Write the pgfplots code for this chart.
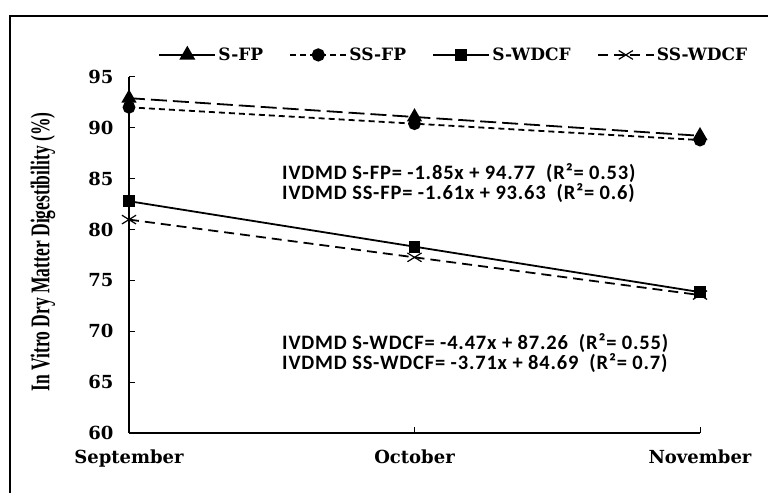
\documentclass[border=0pt]{standalone}
\usepackage{pgfplots}
\pgfplotsset{compat=1.18}
\usepackage{fontspec}
\setmainfont{DejaVu Serif}
\newfontfamily\tickfam{DejaVu Serif}
\newfontfamily\eqfam[LetterSpace=4]{Carlito}
\newfontfamily\labfam{Liberation Serif}
\newcommand\tickfont{\tickfam\bfseries\fontsize{18bp}{20bp}\selectfont}
\newcommand\legfont{\tickfam\bfseries\fontsize{17bp}{20bp}\selectfont}
\newcommand\eqfont{\eqfam\bfseries\fontsize{20.5bp}{20bp}\selectfont}
\begin{document}
\begin{tikzpicture}
\useasboundingbox (0,0) rectangle (768bp,493bp);
\draw[line width=2bp] (10bp,-5bp) -- (10bp,477bp) -- (775bp,477bp);
\node[rotate=90] at (43bp,241bp) {\scalebox{0.65}[1]{\labfam\bfseries\fontsize{27bp}{27bp}\selectfont In Vitro Dry Matter Digestibility (\%)}};
\begin{axis}[
  at={(129bp,60bp)}, anchor=south west,
  scale only axis, width=571bp, height=356bp,
  xmin=0, xmax=2, ymin=60, ymax=95,
  axis x line=bottom, axis y line=left,
  axis line style={-, line width=1.2bp},
  xtick={0,1,2}, xticklabels={September,October,November},
  ytick={60,65,...,95},
  tick align=inside, major tick length=6bp,
  tick style={line width=1bp, black},
  ticklabel style={font=\tickfont},
  /pgf/number format/assume math mode=true,
  yticklabel style={xshift=-12bp},
  xticklabel style={yshift=-13bp},
  clip=false,
  legend columns=4,
  legend style={draw=none, fill=none, at={(0.0508,1.062)}, anchor=west, inner sep=0pt,
    font=\legfont, /tikz/every even column/.append style={column sep=24bp}},
  legend image code/.code={\draw[mark repeat=2,mark phase=2,#1] plot coordinates {(0bp,0bp)(28bp,0bp)(56bp,0bp)};},
]
\addplot[black, line width=1.8bp, dash pattern=on 16bp off 6bp, mark=triangle*, mark size=7bp, mark options={solid}, legend image post style={solid, line width=2.2bp}]
  coordinates {(0,92.92) (1,91.07) (2,89.22)};
\addlegendentry{S-FP}
\addplot[black, line width=1.8bp, dash pattern=on 6bp off 4bp, mark=*, mark size=5.5bp, mark options={solid}, legend image post style={line width=2.2bp}]
  coordinates {(0,92.02) (1,90.41) (2,88.80)};
\addlegendentry{SS-FP}
\addplot[black, line width=1.8bp, solid, mark=square*, mark size=5bp, legend image post style={line width=2.2bp}]
  coordinates {(0,82.79) (1,78.32) (2,73.85)};
\addlegendentry{S-WDCF}
\addplot[black, line width=1.8bp, dash pattern=on 10bp off 6bp, mark=x, mark size=10bp, mark options={solid, yscale=0.62, line width=1.2bp}, legend image post style={line width=2.2bp}]
  coordinates {(0,80.98) (1,77.27) (2,73.56)};
\addlegendentry{SS-WDCF}
\node[anchor=west, align=left, inner sep=0pt, font=\eqfont] at (axis cs:0.536,84.58)
  {IVDMD S-FP= -1.85x + 94.77 \ (R²= 0.53)\\IVDMD SS-FP= -1.61x + 93.63 \ (R²= 0.6)};
\node[anchor=west, align=left, inner sep=0pt, font=\eqfont] at (axis cs:0.536,67.87)
  {IVDMD S-WDCF= -4.47x + 87.26 \ (R²= 0.55)\\IVDMD SS-WDCF= -3.71x + 84.69 \ (R²= 0.7)};
\end{axis}
\end{tikzpicture}
\end{document}
